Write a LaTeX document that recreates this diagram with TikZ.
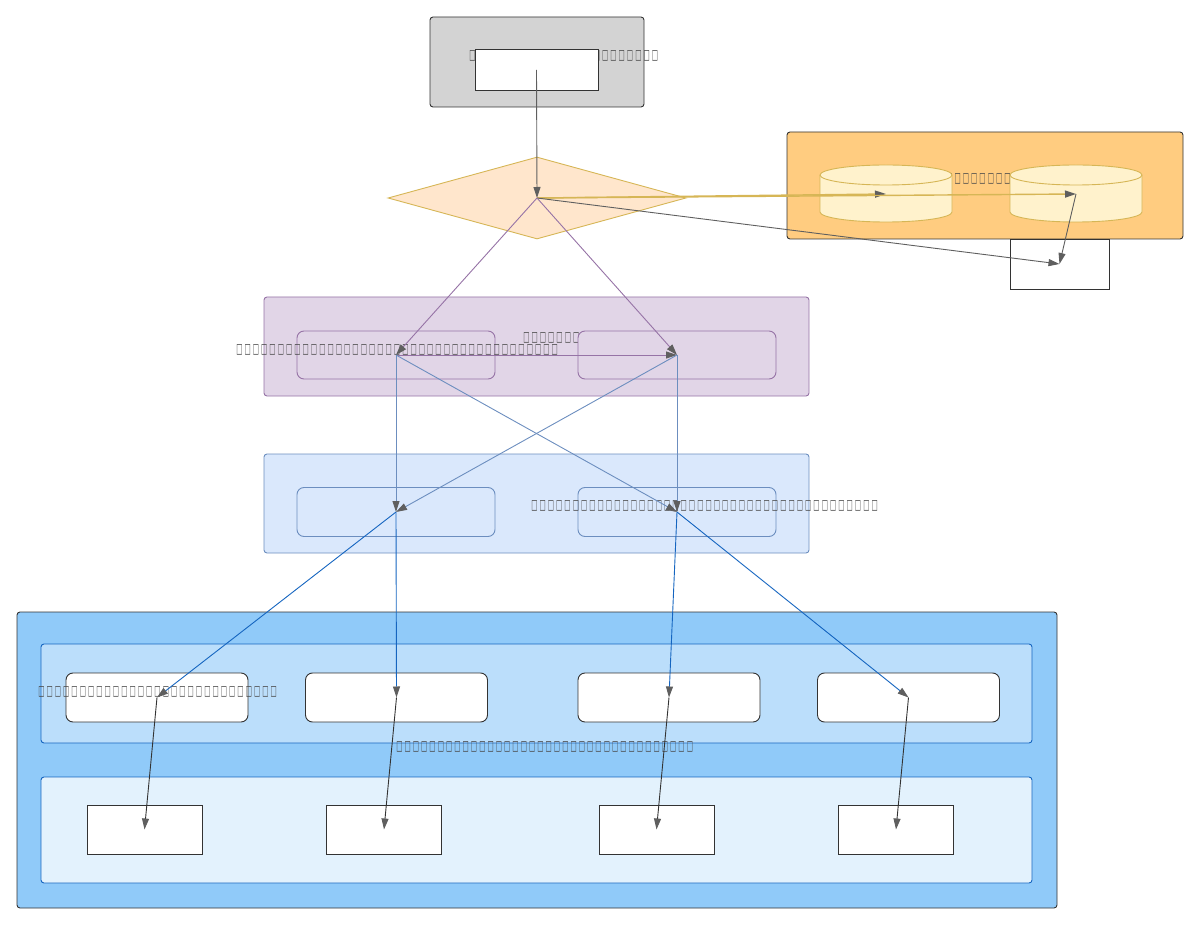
\documentclass[tikz,border=0pt]{standalone}
\usepackage{fontspec}
\newfontfamily\tofufont{DejaVu Sans}
\usetikzlibrary{arrows.meta,shapes.geometric}
\definecolor{edgegray}{HTML}{5F5F5F}
\definecolor{txtgray}{HTML}{4A4A4A}
\definecolor{clgray}{HTML}{D3D3D3}
\definecolor{dark}{HTML}{333333}
\definecolor{dfill}{HTML}{FFE6CC}
\definecolor{dline}{HTML}{D6B656}
\definecolor{orfill}{HTML}{FFCC80}
\definecolor{cylfill}{HTML}{FFF2CC}
\definecolor{pufill}{HTML}{E1D5E7}
\definecolor{puline}{HTML}{9673A6}
\definecolor{blfill}{HTML}{DAE8FC}
\definecolor{blline}{HTML}{6C8EBF}
\definecolor{bgblue}{HTML}{90CAF9}
\definecolor{midblue}{HTML}{BBDEFB}
\definecolor{lightblue}{HTML}{E3F2FD}
\definecolor{deepblue}{HTML}{1565C0}
\newcommand\tofurow[1]{\foreach \i in {1,...,#1}{\makebox[8.3pt]{\resizebox{6.2pt}{9pt}{□}}}}
\tikzset{
  cluster/.style={draw=dark, line width=0.9pt, rounded corners=3pt},
  innerbox/.style={rounded corners=7pt, line width=0.9pt},
  whitebox/.style={draw=dark, fill=white, line width=0.9pt},
  lbl/.style={font=\tofufont\fontsize{10}{12}\selectfont, text=txtgray, inner sep=0pt, anchor=west},
  edge/.style={line width=0.9pt, -{Triangle[length=11pt,width=7pt,color=edgegray]}},
}
\begin{document}
\begin{tikzpicture}[x=1pt,y=-1pt]
\useasboundingbox (0,0) rectangle (1200,925);
% ---------- top grey cluster
\node[cluster, fill=clgray, minimum width=214pt, minimum height=90pt, inner sep=0pt] (topcl) at (537,62) {};
\node[lbl] (toplbl) at (468,56) {\tofurow{23}};
\node[whitebox, minimum width=123pt, minimum height=41pt, inner sep=0pt] (start) at (536.5,70) {};
% ---------- diamond
\node[diamond, draw=dline, fill=dfill, line width=0.9pt, minimum width=298pt, minimum height=82pt, inner sep=0pt] (dec) at (537,198) {};
% ---------- orange cluster
\node[cluster, fill=orfill, minimum width=396pt, minimum height=107pt, inner sep=0pt] (orcl) at (985,185.5) {};
\node[lbl] (orlbl) at (945,179) {\tofurow{9}};
\foreach \cx/\nm in {886/cylA,1076/cylB}{
  \filldraw[draw=dline, fill=cylfill, line width=0.9pt]
    (\cx-66,175) -- (\cx-66,212) arc[start angle=180,end angle=0,x radius=66,y radius=10]
    -- (\cx+66,175) arc[start angle=0,end angle=-180,x radius=66,y radius=10] -- cycle;
  \draw[dline, line width=0.9pt] (\cx+66,175) arc[start angle=0,end angle=180,x radius=66,y radius=10];
  \coordinate (\nm) at (\cx,194);
}
\node[whitebox, minimum width=99pt, minimum height=50pt, inner sep=0pt] (store) at (1059.5,264) {};
% ---------- purple cluster
\node[cluster, draw=puline, fill=pufill, minimum width=545pt, minimum height=99pt, inner sep=0pt] (pucl) at (536.5,346.5) {};
\node[lbl] (pulbl) at (522,338) {\tofurow{10}};
\node[innerbox, draw=puline, fill=pufill, minimum width=198pt, minimum height=48pt, inner sep=0pt] (pA) at (396,355) {};
\node[innerbox, draw=puline, fill=pufill, minimum width=198pt, minimum height=48pt, inner sep=0pt] (pB) at (677,355) {};
\node[lbl] (pulong) at (235,350) {\tofurow{39}};
% ---------- blue cluster
\node[cluster, draw=blline, fill=blfill, minimum width=545pt, minimum height=99pt, inner sep=0pt] (blcl) at (536.5,503.5) {};
\node[innerbox, draw=blline, fill=blfill, minimum width=198pt, minimum height=49pt, inner sep=0pt] (bA) at (396,512) {};
\node[innerbox, draw=blline, fill=blfill, minimum width=198pt, minimum height=49pt, inner sep=0pt] (bB) at (677,512) {};
\node[lbl] (bllong) at (530,506) {\tofurow{42}};
% ---------- bottom cluster
\node[cluster, fill=bgblue, minimum width=1040pt, minimum height=296pt, inner sep=0pt] (botcl) at (537,760) {};
\node[draw=deepblue, fill=midblue, line width=0.9pt, rounded corners=3pt, minimum width=991pt, minimum height=99pt, inner sep=0pt] (row1cl) at (536.5,693.5) {};
\node[draw=deepblue, fill=lightblue, line width=0.9pt, rounded corners=3pt, minimum width=991pt, minimum height=106pt, inner sep=0pt] (row2cl) at (536.5,830) {};
\node[lbl] (row1lbl) at (395,747) {\tofurow{36}};
\foreach \cx/\nm in {157/rA,396.5/rB,669/rC,908.5/rD}{
  \node[whitebox, rounded corners=7pt, minimum width=182pt, minimum height=49pt, inner sep=0pt] (\nm) at (\cx,697.5) {};
}
\foreach \cx/\nm in {144.5/sA,384/sB,656.5/sC,896/sD}{
  \node[whitebox, minimum width=115pt, minimum height=49pt, inner sep=0pt] (\nm) at (\cx,829.5) {};
}
\node[lbl] (rAlbl) at (37,692) {\tofurow{29}};
% ---------- edges
\draw[edge, edgegray] (start.center) -- (dec.center);
\draw[edge, dline, line width=1.4pt] (dec.center) -- (cylA);
\draw[edge, dline, line width=1.4pt] (dec.center) -- (cylB);
\draw[edge, edgegray] (dec.center) -- (store.center);
\draw[edge, edgegray] (cylB) -- (store.center);
\draw[edge, puline] (dec.center) -- (pA.center);
\draw[edge, puline] (dec.center) -- (pB.center);
\draw[edge, puline] (pA.center) -- (pB.center);
\draw[edge, blline] (pA.center) -- (bA.center);
\draw[edge, blline] (pA.center) -- (bB.center);
\draw[edge, blline] (pB.center) -- (bA.center);
\draw[edge, blline] (pB.center) -- (bB.center);
\draw[edge, deepblue] (bA.center) -- (rA.center);
\draw[edge, deepblue] (bA.center) -- (rB.center);
\draw[edge, deepblue] (bB.center) -- (rC.center);
\draw[edge, deepblue] (bB.center) -- (rD.center);
\draw[edge, dark] (rA.center) -- (sA.center);
\draw[edge, dark] (rB.center) -- (sB.center);
\draw[edge, dark] (rC.center) -- (sC.center);
\draw[edge, dark] (rD.center) -- (sD.center);
\end{tikzpicture}
\end{document}
